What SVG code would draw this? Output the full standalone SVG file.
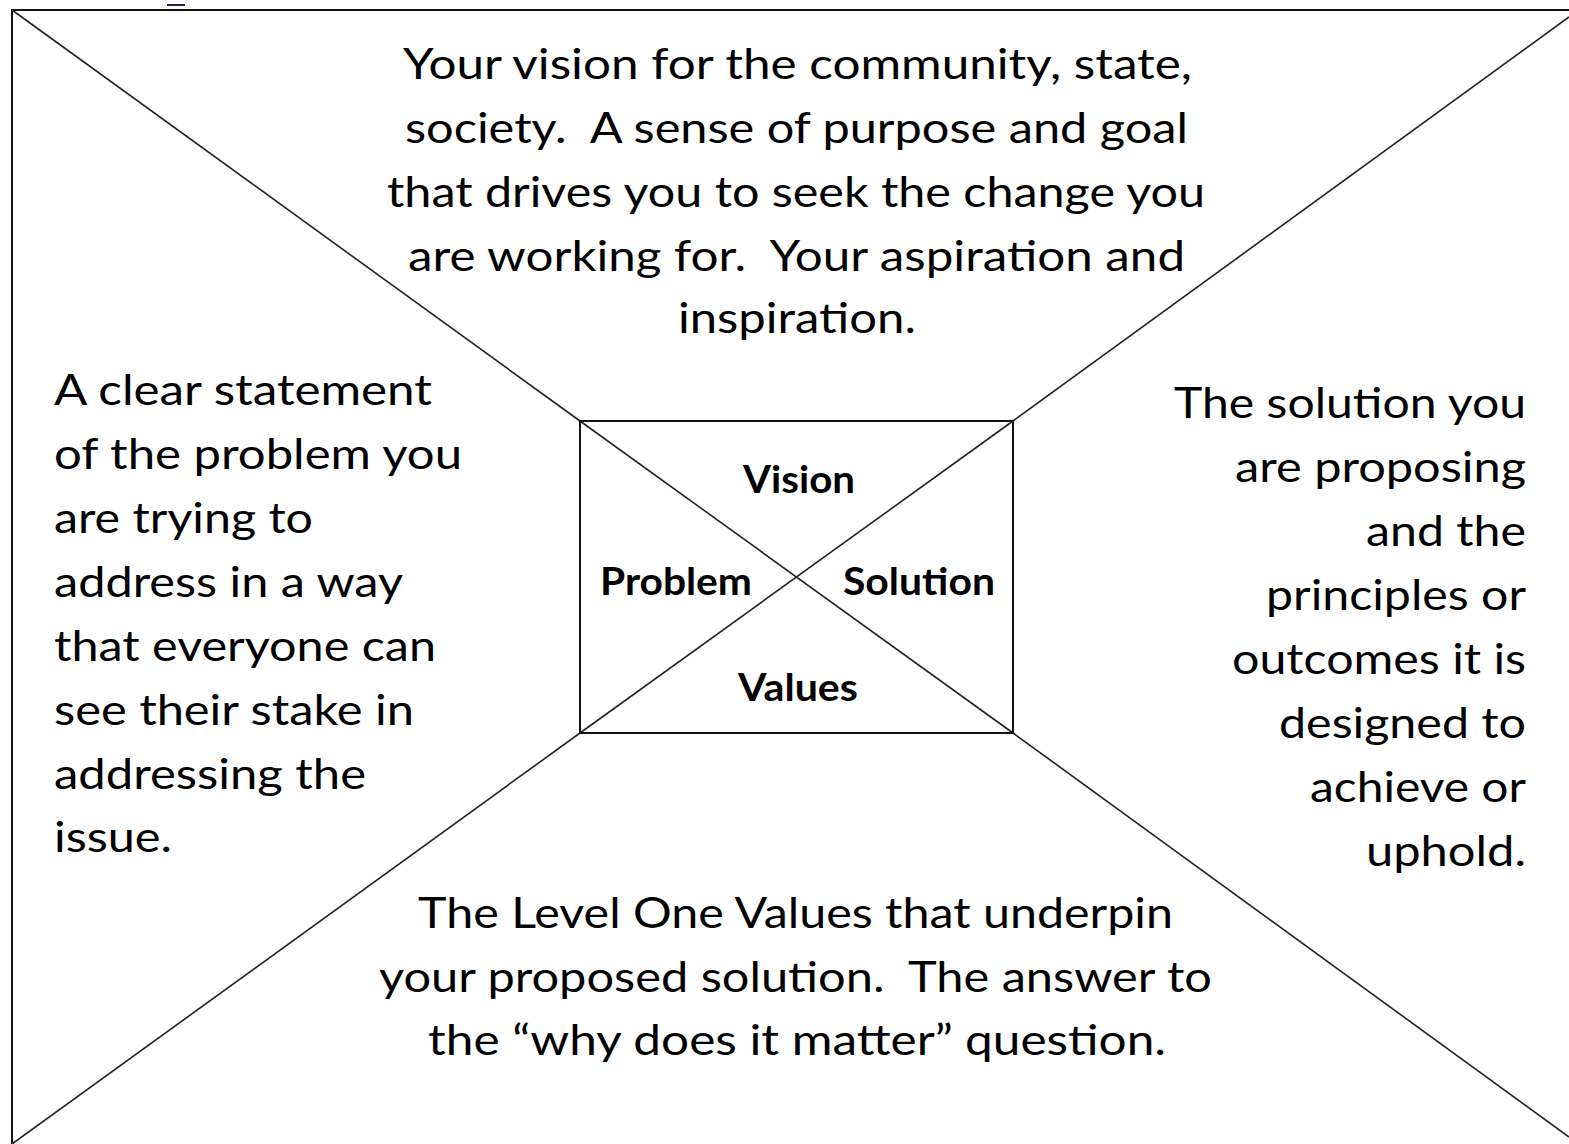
<svg xmlns="http://www.w3.org/2000/svg" width="1569" height="1144" viewBox="0 0 1569 1144">
  <style>
    .frame { fill: none; stroke: #111; stroke-width: 2; }
    .diag { fill: none; stroke: #222; stroke-width: 1.6; }
    .body { font-family: Lato, "Open Sans", "Liberation Sans", sans-serif; font-size: 42px; fill: #000; white-space: pre; }
    .label { font-family: Lato, "Open Sans", "Liberation Sans", sans-serif; font-size: 38px; font-weight: bold; fill: #000; }
  </style>
  <rect x="0" y="0" width="1569" height="1144" fill="#fff"/>

  <!-- outer frame (right and bottom edges fall outside the canvas) -->
  <rect class="frame" x="12" y="10" width="1600" height="1180"/>
  <line x1="167" y1="5" x2="185" y2="5" stroke="#1a2a4a" stroke-width="2"/>

  <!-- connectors: corner diagonals and the cross inside the centre box -->
  <g id="connectors">
    <line class="diag" x1="12" y1="10" x2="580" y2="421"/>
    <line class="diag" x1="1569" y1="17" x2="1013" y2="421"/>
    <line class="diag" x1="12" y1="1144" x2="580" y2="733"/>
    <line class="diag" x1="1569" y1="1137" x2="1013" y2="733"/>
    <line class="diag" x1="580" y1="421" x2="1013" y2="733"/>
    <line class="diag" x1="1013" y1="421" x2="580" y2="733"/>
  </g>

  <!-- centre box -->
  <g id="centre">
    <rect class="frame" x="580" y="421" width="433" height="312"/>
    <text class="label" x="743" y="493" textLength="112" lengthAdjust="spacingAndGlyphs">Vision</text>
    <text class="label" x="600" y="595" textLength="152" lengthAdjust="spacingAndGlyphs">Problem</text>
    <text class="label" x="843" y="595" textLength="152" lengthAdjust="spacingAndGlyphs">Solution</text>
    <text class="label" x="738" y="701" textLength="120" lengthAdjust="spacingAndGlyphs">Values</text>
  </g>

  <!-- vision quadrant -->
  <g id="vision">
    <text class="body" x="403" y="79" textLength="789" lengthAdjust="spacingAndGlyphs">Your vision for the community, state,</text>
    <text class="body" x="405" y="143" textLength="783" lengthAdjust="spacingAndGlyphs" xml:space="preserve">society.  A sense of purpose and goal</text>
    <text class="body" x="387" y="207" textLength="818" lengthAdjust="spacingAndGlyphs">that drives you to seek the change you</text>
    <text class="body" x="408" y="271" textLength="777" lengthAdjust="spacingAndGlyphs" xml:space="preserve">are working for.  Your aspiration and</text>
    <text class="body" x="678" y="333" textLength="238" lengthAdjust="spacingAndGlyphs">inspiration.</text>
  </g>

  <!-- problem quadrant -->
  <g id="problem">
    <text class="body" x="54" y="405" textLength="378" lengthAdjust="spacingAndGlyphs">A clear statement</text>
    <text class="body" x="54" y="469" textLength="408" lengthAdjust="spacingAndGlyphs">of the problem you</text>
    <text class="body" x="54" y="533" textLength="259" lengthAdjust="spacingAndGlyphs">are trying to</text>
    <text class="body" x="54" y="597" textLength="349" lengthAdjust="spacingAndGlyphs">address in a way</text>
    <text class="body" x="54" y="661" textLength="382" lengthAdjust="spacingAndGlyphs">that everyone can</text>
    <text class="body" x="54" y="725" textLength="360" lengthAdjust="spacingAndGlyphs">see their stake in</text>
    <text class="body" x="54" y="789" textLength="312" lengthAdjust="spacingAndGlyphs">addressing the</text>
    <text class="body" x="54" y="852" textLength="118" lengthAdjust="spacingAndGlyphs">issue.</text>
  </g>

  <!-- solution quadrant -->
  <g id="solution">
    <text class="body" x="1174" y="418" textLength="352" lengthAdjust="spacingAndGlyphs">The solution you</text>
    <text class="body" x="1235" y="482" textLength="291" lengthAdjust="spacingAndGlyphs">are proposing</text>
    <text class="body" x="1366" y="546" textLength="160" lengthAdjust="spacingAndGlyphs">and the</text>
    <text class="body" x="1266" y="610" textLength="260" lengthAdjust="spacingAndGlyphs">principles or</text>
    <text class="body" x="1232" y="674" textLength="294" lengthAdjust="spacingAndGlyphs">outcomes it is</text>
    <text class="body" x="1279" y="738" textLength="247" lengthAdjust="spacingAndGlyphs">designed to</text>
    <text class="body" x="1310" y="802" textLength="216" lengthAdjust="spacingAndGlyphs">achieve or</text>
    <text class="body" x="1366" y="866" textLength="160" lengthAdjust="spacingAndGlyphs">uphold.</text>
  </g>

  <!-- values quadrant -->
  <g id="values">
    <text class="body" x="418" y="928" textLength="755" lengthAdjust="spacingAndGlyphs">The Level One Values that underpin</text>
    <text class="body" x="379" y="992" textLength="833" lengthAdjust="spacingAndGlyphs" xml:space="preserve">your proposed solution.  The answer to</text>
    <text class="body" x="428" y="1055" textLength="738" lengthAdjust="spacingAndGlyphs">the “why does it matter” question.</text>
  </g>
</svg>
